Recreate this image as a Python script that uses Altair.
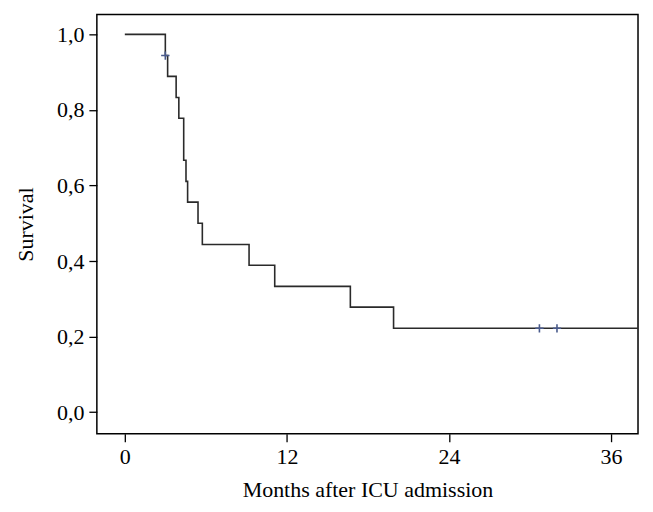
import altair as alt
import pandas as pd

# Kaplan-Meier step points (months, survival)
times = [0, 3.0, 3.17, 3.8, 4.0, 4.36, 4.53, 4.65, 5.42, 5.74, 9.2, 11.1, 16.7, 19.9, 38.0]
survival = [1.0, 0.944, 0.889, 0.833, 0.778, 0.667, 0.611, 0.556, 0.5, 0.444, 0.389, 0.333, 0.278, 0.222, 0.222]

# censored observations
cens_times = [3.0, 30.7, 32.0]
cens_surv = [0.944, 0.222, 0.222]

x_ticks = [0, 12, 24, 36]
y_ticks = [0.0, 0.2, 0.4, 0.6, 0.8, 1.0]

km = pd.DataFrame({"t": times, "s": survival})
cens = pd.DataFrame({"t": cens_times, "s": cens_surv})

FONT = "Liberation Serif"

xscale = alt.Scale(domain=[-2.07, 38.0], nice=False, zero=False)
yscale = alt.Scale(domain=[-0.057, 1.053], nice=False, zero=False)

xaxis = alt.Axis(values=x_ticks, title="Months after ICU admission", grid=False, domain=False,
                 tickColor="black", tickSize=8, tickWidth=1.3, labelFont=FONT, labelFontSize=22,
                 labelColor="black", labelPadding=5, titleFont=FONT, titleFontSize=22,
                 titleFontWeight="normal", titleColor="black", titlePadding=12)
yaxis = alt.Axis(values=y_ticks, title="Survival", grid=False, domain=False,
                 tickColor="black", tickSize=8, tickWidth=1.3, labelFont=FONT, labelFontSize=22,
                 labelColor="black", labelPadding=5,
                 labelExpr="replace(format(datum.value, '.1f'), '.', ',')",
                 titleFont=FONT, titleFontSize=22, titleFontWeight="normal", titleColor="black",
                 titlePadding=19)

line = alt.Chart(km).mark_line(interpolate="step-after", color="#2a2a2a", strokeWidth=1.6, clip=True).encode(
    x=alt.X("t:Q", scale=xscale, axis=xaxis),
    y=alt.Y("s:Q", scale=yscale, axis=yaxis),
)

marks = alt.Chart(cens).mark_point(shape="M-1,0L1,0M0,-1L0,1", filled=False, color="#4a5b8c",
                                   strokeWidth=1.6, size=70, opacity=1).encode(
    x=alt.X("t:Q", scale=xscale),
    y=alt.Y("s:Q", scale=yscale),
)

chart = (line + marks).properties(
    width=542, height=420,
    background="white",
    autosize=alt.AutoSizeParams(type="none"),
    padding={"left": 89, "top": 6, "right": 7, "bottom": 70},
).configure_view(stroke="black", strokeWidth=1.5)

chart.save("out.html", embed_options={"renderer": "svg", "actions": False})
